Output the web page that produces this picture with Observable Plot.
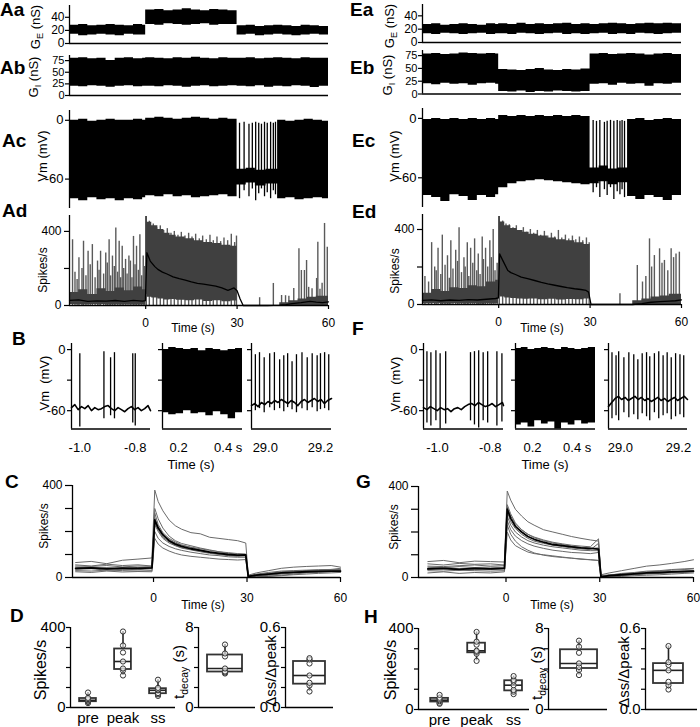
<!DOCTYPE html>
<html><head><meta charset="utf-8">
<script src="https://cdn.jsdelivr.net/npm/d3@7"></script>
<script src="https://cdn.jsdelivr.net/npm/@observablehq/plot@0.6"></script>
<style>
body{margin:0;background:#fff;}
#fig{position:relative;width:700px;height:727px;overflow:hidden;font-family:"Liberation Sans",Arial,Helvetica,sans-serif;color:#000;}
.lab{position:absolute;font-weight:bold;font-size:19px;line-height:1;white-space:nowrap;}
.yl{position:absolute;white-space:nowrap;transform:translate(-50%,-50%) rotate(-90deg);line-height:1;}
.xl{position:absolute;white-space:nowrap;transform:translate(-50%,-50%);line-height:1;}
sub{font-size:70%;line-height:0;}
</style></head><body><div id="fig"></div>
<script>
// ---------------- DATA ----------------
// conductance envelopes (A/E), time grid in s
const tG = [-25,-22,-19,-16,-13,-10,-7,-4,-1,0,3,6,9,12,15,18,21,24,27,30,33,36,39,42,45,48,51,54,57,60];
const gEA_lo = [14,12,13,14,13,12,14,13,13, 29,28,30,29,28,29,30,28,29,29, 13,14,12,13,14,13,12,13,14,13,13];
const gEA_hi = [28,29,27,28,29,28,27,29,28, 51,52,50,51,53,51,50,52,51,50, 27,28,26,27,28,27,26,28,27,26,27];
const gIA_lo = [20,19,21,20,18,20,21,19,20, 20,19,21,20,18,20,21,19,20,21, 20,19,21,18,20,19,21,20,17,20,20];
const gIA_hi = [80,81,79,80,75,80,81,79,80, 81,80,79,81,80,82,80,79,81,80, 80,81,79,80,81,80,79,81,80,80,80];
const gEE_lo = [13,12,14,13,12,13,14,12,13, 13,12,14,13,12,13,14,12,13,12, 13,14,12,13,12,14,13,12,13,14,13];
const gEE_hi = [27,28,26,27,28,27,26,28,27, 28,27,29,27,28,27,28,29,27,28, 27,28,29,28,27,28,29,28,29,28,28];
const gIE_lo = [20,18,21,19,20,17,20,21,19, 5,4,6,3,5,4,6,5,4,5, 19,20,17,21,19,20,15,20,19,21,20];
const gIE_hi = [78,79,77,78,80,79,78,79,78, 48,47,46,48,50,47,46,48,47,49, 78,79,77,78,79,78,76,78,79,77,78];

// membrane potential envelopes (Ac / Ec)
const tVA = [-25,-22,-19,-16,-13,-10,-7,-4,-1,0,3,6,9,12,15,18,21,24,27,30,33,36,39.5,43.3,46,49,52,55,58,60];
const vmA_lo = [-80,-82,-79,-81,-80,-82,-80,-81,-79, -77,-78,-76,-78,-77,-79,-78,-77,-76,-78, -66,-64,-67,-65, -80,-79,-81,-80,-79,-80,-80];
const vmA_hi = [0,1,-1,0,1,0,0,1,0, 2,3,2,1,2,3,2,1,2,1, -50,-49,-51,-50, 0,-1,0,1,0,-1,0];
const spVA_t = [30.8,32.3,33.9,35.0,36.1,37.1,38.0,39.0,39.9,41.0,41.9,42.6];
const spVA_top = [-3,-2,-4,-3,-2,-3,-4,-2,-3,-2,-3,-2];
const spVA_bot = [-80,-72,-78,-70,-82,-75,-70,-78,-74,-80,-72,-76];
const tVE = [-25,-22,-19,-16,-13,-10,-7,-4,-1,0,3,6,9,12,15,18,21,24,27,30,33,36,39,42.3,45,48,51,54,57,60];
const vmE_lo = [-78,-80,-84,-77,-79,-83,-78,-80,-77, -70,-66,-64,-63,-62,-63,-64,-65,-66,-67, -66,-64,-67,-65, -79,-82,-78,-80,-83,-78,-79];
const vmE_hi = [-1,0,-1,0,-1,0,-1,0,-1, 3,2,3,2,3,2,3,2,3,2, -50,-48,-51,-50, -1,0,-2,-1,0,-1,-1];
const spVE_t = [31.0,32.1,33.2,34.7,35.6,36.7,37.8,38.9,39.8,40.5,41.3];
const spVE_top = [-2,-3,-2,-4,-3,-2,-3,-2,-3,-2,-3];
const spVE_bot = [-75,-70,-80,-72,-78,-70,-82,-74,-77,-72,-80];

// instantaneous rate (Ad / Ed): dense envelope, individual peaks, smoothed mean
const tR = [-25,-22,-19,-16,-13,-10,-7,-4,-1,0,0.5,2,4,6,8,10,13,16,19,22,25,28,30,31,44,47,50,53,56,60];
const rA_lo = [5,4,6,5,4,6,5,4,6, 60,45,40,35,30,32,28,25,30,22,26,20,24, 0,0,0,0,0,0,0,0];
const rA_hi = [70,85,60,90,75,95,80,100,85, 480,450,430,410,390,380,370,360,350,340,335,325,320, 0,0,15,25,35,45,50,55];
const rE_lo = [4,5,3,6,4,5,3,6,5, 45,40,35,32,30,28,30,26,28,24,27,25,30, 0,0,0,0,0,0,0,0];
const rE_hi = [60,80,70,90,85,100,95,120,130, 470,440,420,405,395,385,375,365,355,345,340,330,320, 0,0,20,30,40,45,55,60];
const pkA_t = [-24.0,-21.9,-20.4,-18.9,-17.5,-15.8,-14.8,-13.1,-12.0,-10.9,-9.8,-8.7,-7.7,-6.6,-5.5,-4.0,-3.0,-1.9,-0.8,
  -23.2,-22.5,-20.9,-19.6,-18.2,-16.6,-15.3,-13.8,-12.6,-11.5,-10.3,-9.2,-8.2,-7.2,-6.1,-5.0,-4.5,-3.5,-2.4,-1.3,-0.3,
  0.2,1.2,2.5,3.6,4.8,5.9,7.1,8.3,9.4,10.6,11.7,12.9,14.1,15.2,16.4,17.6,18.7,19.9,21.1,22.2,23.4,24.6,25.7,26.9,28.1,29.2,29.8,
  37.4,41.9,44.6,45.9,47.0,48.6,50.3,51.1,52.1,52.8,53.5,54.6,56.1,56.5,57.2,57.9,58.7,59.6];
const pkA_v = [355,258,347,293,329,240,293,284,355,267,418,347,320,249,267,373,320,382,267,
  180,140,200,160,220,150,190,170,230,160,210,180,150,200,170,240,150,220,190,160,210,
  480,455,440,420,430,405,415,390,400,380,395,375,390,370,385,360,375,355,380,350,370,345,365,350,385,340,375,
  42,119,54,53,50,92,307,189,189,243,98,90,146,342,88,120,443,315];
const pkE_t = [-22.0,-19.9,-18.5,-16.8,-15.7,-14.1,-13.0,-11.4,-10.3,-9.2,-7.9,-6.7,-5.4,-4.3,-2.9,-1.8,
  -24.2,-23,-21,-20.5,-19,-17.6,-16.2,-15,-13.5,-12.2,-11,-9.8,-8.5,-7.2,-6.1,-5,-3.6,-2.4,-1.2,-0.5,
  0.2,1.3,2.4,3.5,4.7,5.8,6.9,8.1,9.2,10.4,11.5,12.7,13.8,15,16.1,17.3,18.4,19.6,20.7,21.9,23,24.2,25.3,26.5,27.6,28.8,29.7,
  39.8,45.5,47.2,48.3,49.5,50.2,51.1,52.8,53.6,54.4,55.5,56.6,57.4,58.2,59.3];
const pkE_v = [330,300,370,260,340,290,410,250,330,300,350,270,360,300,340,400,
  150,120,200,180,160,210,140,190,230,170,200,150,220,180,160,240,200,250,180,220,
  470,445,430,425,410,420,395,410,385,400,380,395,370,390,365,380,360,395,355,370,350,365,345,360,340,355,330,
  57,208,120,150,350,200,261,297,220,235,180,297,250,270,279];
const mA_t = [-25,-22,-19,-16,-13,-10,-7,-4,-1,-0.1,0.4,1.5,3,4,5.5,7,9,11,13,15,17,19,21,23,25,27,28,29,30,31,32,35,40,44,46,48,51,54,56,58,60];
const mA_v = [28,30,22,25,24,27,22,28,24,26,285,240,210,195,180,170,155,145,137,128,120,115,110,105,95,82,88,95,80,35,0,0,0,2,5,10,15,22,18,15,20];
const mE_t = [-25,-22,-19,-16,-13,-10,-7,-4,-1,-0.1,0.3,1.5,3,4,5.5,7.4,9.5,11.8,14,16.1,18,20.5,22.5,24.9,27,28.7,29.5,30.3,32,36,40,44,47,50,53,56,58,60];
const mE_v = [22,25,20,24,22,26,24,28,32,35,270,230,181,170,160,146,138,128,118,110,104,96,90,84,80,75,66,0,0,0,0,0,5,12,15,18,20,25];

// B / F expanded Vm traces
const tB1 = [-1.03,-1.018,-1.006,-0.994,-0.982,-0.97,-0.958,-0.946,-0.934,-0.922,-0.91,-0.898,-0.886,-0.874,-0.862,-0.85,-0.838,-0.826,-0.814,-0.802,-0.79,-0.778,-0.766,-0.754,-0.745];
const vB1 = [-57,-54,-59,-56,-58,-55,-60,-57,-59,-58,-56,-55,-58,-60,-57,-59,-61,-58,-56,-59,-57,-60,-58,-55,-60];
const spB1_t = [-1.0,-0.913,-0.889,-0.875,-0.809,-0.80];
const spB1_top = [-4,-2,-8,-3,-4,-4];
const spB1_bot = [-76,-68,-65,-68,-72,-75];
const tB2 = [0.135,0.16,0.19,0.22,0.25,0.28,0.31,0.34,0.37,0.40,0.43,0.458];
const loB2 = [-62,-64,-63,-60,-63,-62,-65,-61,-64,-68,-62,-60];
const hiB2 = [0,2,1,0,1,-1,1,0,-1,0,1,-2];
const tB3 = [28.95,28.962,28.974,28.986,28.998,29.01,29.022,29.034,29.046,29.058,29.07,29.082,29.094,29.106,29.118,29.13,29.142,29.154,29.166,29.178,29.19,29.202,29.214,29.226,29.24];
const vB3 = [-55,-53,-56,-52,-54,-51,-53,-50,-52,-49,-51,-53,-50,-52,-55,-51,-49,-52,-50,-48,-51,-49,-53,-50,-48];
const spB3_t = [28.964,28.979,28.996,29.016,29.033,29.052,29.067,29.081,29.097,29.113,29.133,29.152,29.17,29.188,29.2,29.215,29.23];
const spB3_top = [-5,-3,-8,-4,-3,-10,-6,-4,-12,-5,-3,-8,-4,-6,-4,-3,-5];
const spB3_bot = [-60,-58,-62,-57,-60,-58,-61,-57,-59,-62,-58,-60,-57,-61,-59,-58,-60];
const tF1 = [-1.053,-1.04,-1.027,-1.014,-1.001,-0.988,-0.975,-0.962,-0.949,-0.936,-0.923,-0.91,-0.897,-0.884,-0.871,-0.858,-0.845,-0.832,-0.819,-0.806,-0.793,-0.78,-0.767,-0.754,-0.75];
const vF1 = [-57,-59,-56,-58,-60,-57,-59,-58,-61,-58,-57,-59,-56,-54,-53,-55,-52,-54,-56,-55,-53,-56,-54,-52,-55];
const spF1_t = [-1.04,-1.025,-1.006,-0.99,-0.969,-0.875,-0.86,-0.844,-0.827,-0.81,-0.775,-0.756];
const spF1_top = [-2,-3,-1,-4,-2,-3,-2,-1,-3,-2,-2,-4];
const spF1_bot = [-72,-75,-70,-78,-73,-70,-74,-77,-70,-72,-75,-71];
const tF2 = [0.124,0.15,0.18,0.21,0.24,0.27,0.30,0.33,0.36,0.39,0.42,0.45,0.482];
const loF2 = [-74,-72,-76,-70,-73,-71,-78,-72,-74,-70,-73,-72,-70];
const hiF2 = [1,2,0,1,2,1,0,2,1,0,1,2,1];
const tF3 = [28.959,28.97,28.982,28.993,29.004,29.016,29.027,29.038,29.05,29.061,29.072,29.084,29.095,29.106,29.118,29.129,29.14,29.152,29.163,29.174,29.186,29.197,29.208,29.22,29.231];
const vF3 = [-56,-52,-48,-46,-49,-47,-50,-48,-46,-49,-47,-50,-48,-51,-49,-47,-50,-48,-51,-49,-47,-50,-48,-46,-49];
const spF3_t = [28.971,28.985,28.994,29.012,29.029,29.046,29.06,29.075,29.09,29.101,29.117,29.132,29.147,29.161,29.175,29.19,29.205,29.218];
const spF3_top = [-3,-6,-2,-8,-3,-5,-10,-4,-3,-7,-4,-2,-6,-3,-8,-4,-5,-6];
const spF3_bot = [-68,-65,-70,-62,-67,-64,-69,-63,-66,-70,-62,-68,-65,-63,-69,-66,-64,-67];

// C / G: rate of each cell (gray) and mean (black)
const tC = [-25,-20,-15,-10,-5,-0.5,0.4,1.5,3,5,7,9,12,15,18,21,24,27,29.6,30.4,33,37,41,45,49,53,57,60];
const C_mean = [40,42,38,41,40,42,250,215,185,160,145,135,125,118,110,105,100,97,98,5,10,15,20,22,25,27,28,28];
const C_cells = [
  [65,70,60,75,80,85,380,330,290,250,225,210,195,190,175,170,165,160,150,10,20,30,40,45,48,50,52,45],
  [45,40,42,38,44,40,300,255,215,180,160,148,138,128,120,112,105,102,100,3,8,12,18,22,25,28,30,30],
  [35,38,32,36,34,38,230,200,170,150,138,128,120,112,105,100,95,92,95,2,5,10,15,20,22,25,26,28],
  [30,28,32,30,28,30,200,170,150,135,125,118,110,104,98,95,90,88,88,0,3,6,10,15,20,22,25,25],
  [50,48,52,46,50,48,260,220,190,165,150,140,132,125,118,112,108,104,102,4,12,18,25,28,30,32,34,35],
  [25,22,28,24,26,25,170,145,128,115,105,98,92,88,84,80,78,76,78,0,2,5,8,12,15,18,20,22],
  [40,44,36,42,38,45,280,230,195,170,155,142,130,120,112,106,100,96,94,6,15,22,28,30,32,34,35,32],
  [55,50,58,52,55,50,240,205,175,155,140,130,122,115,108,102,98,94,96,8,10,14,20,25,28,30,35,40]];
const G_mean = [38,40,36,40,38,40,300,260,225,200,180,168,155,145,140,135,130,128,125,3,8,12,16,20,22,25,27,28];
const G_cells = [
  [70,75,65,72,70,68,380,340,300,270,245,230,210,200,190,180,172,165,160,12,20,30,40,50,55,62,70,78],
  [50,48,52,55,50,52,320,280,240,210,190,175,162,152,145,138,132,128,130,5,10,18,22,28,30,35,38,40],
  [30,28,32,30,28,30,230,190,160,135,120,108,98,92,88,85,80,78,75,0,3,8,12,15,18,20,22,25],
  [20,25,18,22,20,25,200,165,140,125,112,105,100,95,90,85,82,78,75,0,2,5,8,10,12,15,18,20],
  [45,42,48,44,46,44,290,245,215,190,172,160,150,142,136,130,126,122,150,2,6,10,15,18,22,25,28,30],
  [35,38,33,36,35,38,270,230,200,178,162,152,142,135,130,125,120,118,118,4,8,12,14,18,20,22,25,28],
  [60,55,62,58,60,55,310,270,235,210,190,178,165,155,148,142,138,135,170,8,12,15,20,25,28,32,35,38],
  [40,45,38,42,40,45,250,210,182,162,148,138,128,120,115,110,108,105,110,3,6,10,14,18,20,22,25,26]];

// D / H summary values (one per cell)
const cats = ["pre","peak","ss"];
const D_pre = [22,28,30,36,42,48,75];
const D_peak = [160,185,195,230,275,310,380];
const D_ss = [58,66,72,86,90,98,139];
const D_tdecay = [3.4,3.5,3.6,3.9,5.1,5.4,6.3];
const D_ratio = [0.12,0.165,0.185,0.24,0.33,0.36,0.37];
const H_pre = [28,33,41,46,52,58,72];
const H_peak = [240,275,285,290,320,335,383];
const H_ss = [76,88,96,120,138,146,165];
const H_tdecay = [3.4,3.9,4.2,4.55,5.6,6.2,6.8];
const H_ratio = [0.148,0.18,0.205,0.29,0.33,0.35,0.47];

// ---------------- DRAWING ----------------
const FONT = '"Liberation Sans", Arial, Helvetica, sans-serif';
const fig = document.getElementById("fig");
const zip = (t, cols) => t.map((x, i) => { const o = {t: x}; for (const k in cols) o[k] = cols[k][i]; return o; });

function panel(o) {
  const ml = 50, mr = 14, mt = 10, mb = 40;
  const W = o.x1 - o.x0 + ml + mr, H = o.y1 - o.y0 + mt + mb;
  const svg = Plot.plot({
    width: W, height: H, marginLeft: ml, marginRight: mr, marginTop: mt, marginBottom: mb,
    x: {domain: o.xd, axis: null},
    y: {domain: o.yd, axis: null},
    style: {background: "transparent", overflow: "visible", fontFamily: FONT, fontSize: (o.fs || 12) + "px", color: "#000"},
    marks: o.marks
  });
  svg.style.position = "absolute";
  svg.style.left = (o.x0 - ml) + "px";
  svg.style.top = (o.y0 - mt) + "px";
  fig.appendChild(svg);
}
const AX = {stroke: "#000", strokeWidth: 1.3};
const yAx = (ticks, fmt, size = 4, pad = 2) => Plot.axisY({ticks, tickFormat: fmt, tickSize: size, tickPadding: pad, label: null, strokeWidth: 1.2});
const xAx = (ticks, fmt, size = 4, pad = 9) => Plot.axisX({ticks, tickFormat: fmt, tickSize: size, tickPadding: pad, label: null, strokeWidth: 1.2});
const only = (keep) => d => keep.includes(d) ? String(d) : "";

// ---- A / E conductance panels
function gPanel(x0, x1, y0, y1, yd, lo, hi, ticks, fs) {
  panel({x0, x1, y0, y1, xd: [-25, 60], yd, fs, marks: [
    Plot.areaY(zip(tG, {lo, hi}), {x: "t", y1: "lo", y2: "hi", curve: "step-after", fill: "#000"}),
    Plot.ruleX([-25], AX), Plot.ruleY([0], AX),
    yAx(ticks, d => String(d), 4, 1)
  ]});
}
gPanel(69, 328, 5, 43, [0, 58], gEA_lo, gEA_hi, [0, 20, 40], 12);
gPanel(69, 328, 55, 95, [0, 86], gIA_lo, gIA_hi, [0, 25, 50, 75], 11);
gPanel(422, 681, 4, 42, [0, 57], gEE_lo, gEE_hi, [0, 20, 40], 12);
gPanel(422, 681, 50, 93.5, [0, 85], gIE_lo, gIE_hi, [0, 25, 50, 75], 11);

// ---- Vm long traces
function vmPanel(x0, x1, y0, y1, tt, lo, hi, st, stop, sbot) {
  panel({x0, x1, y0, y1, xd: [-25, 60], yd: [-90, 10], fs: 13, marks: [
    Plot.areaY(zip(tt, {lo, hi}), {x: "t", y1: "lo", y2: "hi", curve: "step-after", fill: "#000"}),
    Plot.ruleX(zip(st, {a: stop, b: sbot}), {x: "t", y1: "b", y2: "a", stroke: "#000", strokeWidth: 1.3}),
    Plot.ruleX([-25], AX),
    yAx([0, -60], d => String(d))
  ]});
}
vmPanel(69, 328, 110, 208, tVA, vmA_lo, vmA_hi, spVA_t, spVA_top, spVA_bot);
vmPanel(422, 681, 108, 207, tVE, vmE_lo, vmE_hi, spVE_t, spVE_top, spVE_bot);

// ---- rate panels
function ratePanel(x0, x1, y0, y1, yd, lo, hi, pt, pv, mt, mv) {
  panel({x0, x1, y0, y1, xd: [-25, 60], yd, fs: 12, marks: [
    Plot.ruleX(zip(pt, {v: pv}), {x: "t", y1: 0, y2: "v", stroke: "#5a5a5a", strokeWidth: 1.4}),
    Plot.areaY(zip(tR, {lo, hi}), {x: "t", y1: "lo", y2: "hi", curve: "step-after", fill: "#404040"}),
    Plot.line(zip(mt, {v: mv}), {x: "t", y: "v", stroke: "#000", strokeWidth: 1.3}),
    Plot.ruleX([-25], AX), Plot.ruleY([0], AX),
    yAx([0, 200, 400], only([0, 400]), 5, 3),
    xAx([0, 30, 60], d => String(d), 4, 9)
  ]});
}
ratePanel(69, 328, 215, 305, [0, 486], rA_lo, rA_hi, pkA_t, pkA_v, mA_t, mA_v);
ratePanel(422, 681, 214, 304, [0, 480], rE_lo, rE_hi, pkE_t, pkE_v, mE_t, mE_v);

// ---- B / F expanded traces
function spikeSub(x0, x1, xd, ticks, fmt, base, spikes, band, labels) {
  const marks = [];
  if (band) marks.push(Plot.areaY(band, {x: "t", y1: "lo", y2: "hi", curve: "step-after", fill: "#000"}));
  if (base) marks.push(Plot.line(base, {x: "t", y: "v", stroke: "#000", strokeWidth: 1.6}));
  if (spikes) marks.push(Plot.ruleX(spikes, {x: "t", y1: "b", y2: "a", stroke: "#000", strokeWidth: 1.3}));
  marks.push(Plot.ruleX([xd[0]], AX), Plot.ruleY([-78], AX),
    yAx([0, -30, -60], labels ? only([0, -60]) : () => ""),
    xAx(ticks, fmt, 0, 14));
  panel({x0, x1, y0: 343, y1: 428.5, xd, yd: [-78, 6], fs: 13, marks});
}
const f1 = d => d.toFixed(1);
spikeSub(71, 150, [-1.03, -0.745], [-1.0, -0.8], f1, zip(tB1, {v: vB1}), zip(spB1_t, {a: spB1_top, b: spB1_bot}), null, true);
spikeSub(162, 242, [0.135, 0.458], [0.2, 0.4], d => d === 0.4 ? "0.4 s" : f1(d), null, null, zip(tB2, {lo: loB2, hi: hiB2}), false);
spikeSub(251, 331, [28.95, 29.24], [29.0, 29.2], f1, zip(tB3, {v: vB3}), zip(spB3_t, {a: spB3_top, b: spB3_bot}), null, false);
spikeSub(423, 503, [-1.053, -0.75], [-1.0, -0.8], f1, zip(tF1, {v: vF1}), zip(spF1_t, {a: spF1_top, b: spF1_bot}), null, true);
spikeSub(515, 595, [0.124, 0.482], [0.2, 0.4], d => d === 0.4 ? "0.4 s" : f1(d), null, null, zip(tF2, {lo: loF2, hi: hiF2}), false);
spikeSub(608, 687, [28.959, 29.231], [29.0, 29.2], f1, zip(tF3, {v: vF3}), zip(spF3_t, {a: spF3_top, b: spF3_bot}), null, false);

// ---- C / G population rates
function popPanel(x0, x1, y0, y1, xd, cells, mean) {
  const rows = [];
  cells.forEach((c, k) => c.forEach((v, i) => rows.push({t: tC[i], v, cell: k})));
  panel({x0, x1, y0, y1, xd, yd: [0, 400], fs: 12, marks: [
    Plot.line(rows, {x: "t", y: "v", z: "cell", stroke: "#6a6a6a", strokeWidth: 1}),
    Plot.line(zip(tC, {v: mean}), {x: "t", y: "v", stroke: "#000", strokeWidth: 1.8}),
    Plot.ruleX([xd[0]], AX), Plot.ruleY([0], AX),
    yAx([0, 100, 200, 300, 400], only([0, 400]), 7, 3),
    xAx([0, 30, 60], d => String(d), 5, 11)
  ]});
}
popPanel(72, 340, 485, 577, [-26, 60], C_cells, C_mean);
popPanel(418, 693, 486, 577, [-28, 60], G_cells, G_mean);

// ---- D / H box plots
function stats(vals, i) {
  const s = vals.slice().sort(d3.ascending);
  return {i, min: s[0], q1: d3.quantile(s, 0.25), med: d3.quantile(s, 0.5), q3: d3.quantile(s, 0.75), max: s[s.length - 1]};
}
function boxPanel(x0, x1, y0, y1, xd, yd, groups, pos, hw, ticks, tickLabels, catLabels) {
  const st = groups.map((g, k) => stats(g, pos[k]));
  const pts = groups.flatMap((g, k) => g.map(v => ({i: pos[k], v})));
  const marks = [
    Plot.ruleX(st, {x: "i", y1: "min", y2: "max", stroke: "#222", strokeWidth: 1.6}),
    Plot.rect(st, {x1: d => d.i - hw, x2: d => d.i + hw, y1: "q1", y2: "q3", fill: "white", stroke: "#333", strokeWidth: 1.8}),
    Plot.ruleY(st, {y: "med", x1: d => d.i - hw, x2: d => d.i + hw, stroke: "#222", strokeWidth: 1.6}),
    Plot.dot(pts, {x: "i", y: "v", r: 2.6, stroke: "#333", strokeWidth: 1, fill: "white", fillOpacity: 0.6}),
    Plot.ruleX([xd[0]], AX), Plot.ruleY([0], AX),
    yAx(ticks, d => tickLabels[ticks.indexOf(d)], 4, 1)
  ];
  if (catLabels) marks.push(Plot.axisX({ticks: pos, tickFormat: d => catLabels[pos.indexOf(d)], tickSize: 0, tickPadding: 5, label: null}));
  panel({x0, x1, y0, y1, xd, yd, fs: 15, marks});
}
boxPanel(70, 175, 627, 707, [-0.5, 2.5], [0, 400], [D_pre, D_peak, D_ss], [0, 1, 2], 0.24, [0, 100, 200, 300, 400], ["0", "", "", "", "400"], cats);
boxPanel(198, 255, 627, 707, [0, 1], [0, 8], [D_tdecay], [0.465], 0.307, [0, 2, 4, 6, 8], ["0", "", "", "", "8"], null);
boxPanel(285, 333, 627, 707, [0, 1], [0, 0.6], [D_ratio], [0.5], 0.333, [0, 0.15, 0.3, 0.45, 0.6], ["0.0", "", "", "", "0.6"], null);
boxPanel(418, 529, 628, 709, [-0.57, 2.43], [0, 400], [H_pre, H_peak, H_ss], [0, 1, 2], 0.24, [0, 100, 200, 300, 400], ["0", "", "", "", "400"], cats);
boxPanel(548, 607, 628, 709, [0, 1], [0, 8], [H_tdecay], [0.517], 0.314, [0, 2, 4, 6, 8], ["0", "", "", "", "8"], null);
boxPanel(645, 697, 628, 709, [0, 1], [0, 0.6], [H_ratio], [0.442], 0.288, [0, 0.15, 0.3, 0.45, 0.6], ["0.0", "", "", "", "0.6"], null);

// ---------------- TEXT ----------------
function txt(html, x, y, cls, fs) {
  const d = document.createElement("div");
  d.className = cls; d.innerHTML = html;
  d.style.left = x + "px"; d.style.top = y + "px";
  if (fs) d.style.fontSize = fs + "px";
  fig.appendChild(d);
}
[["Aa",0,0],["Ab",0,58],["Ac",2,131],["Ad",2,201],["B",12,329],["C",5,472],["D",10,606],
 ["Ea",350,0],["Eb",350,58],["Ec",352,131],["Ed",352,202],["F",352,319],["G",356,472],["H",364,607]]
 .forEach(([s, x, y]) => txt(s, x, y, "lab"));
const GE = "G<sub>E</sub> (nS)", GI = "G<sub>I</sub> (nS)";
txt(GE, 35, 27, "yl", 13); txt(GI, 33, 77, "yl", 13);
txt("Vm (mV)", 42, 156, "yl", 13); txt("Spikes/s", 43, 270, "yl", 12);
txt("Vm&nbsp; (mV)", 44, 383, "yl", 13); txt("Spikes/s", 44, 526, "yl", 12);
txt("Spikes/s", 41, 670, "yl", 16); txt("t<sub>decay</sub> (s)", 178, 672, "yl", 15); txt("Δss/Δpeak", 270, 671, "yl", 15);
txt(GE, 389, 26, "yl", 13); txt(GI, 387, 75, "yl", 13);
txt("Vm (mV)", 394, 156, "yl", 13); txt("Spikes/s", 395, 271, "yl", 12);
txt("Vm&nbsp; (mV)", 395, 384, "yl", 13); txt("Spikes/s", 394, 527, "yl", 12);
txt("Spikes/s", 391, 670, "yl", 16); txt("t<sub>decay</sub> (s)", 536, 673, "yl", 15); txt("Δss/Δpeak", 623, 672, "yl", 15);
txt("Time (s)", 193, 328, "xl", 12); txt("Time (s)", 542, 328, "xl", 12);
txt("Time (s)", 191, 464, "xl", 13); txt("Time (s)", 545, 464, "xl", 13);
txt("Time (s)", 203, 605, "xl", 12); txt("Time (s)", 552, 605, "xl", 12);
</script>
</body></html>
